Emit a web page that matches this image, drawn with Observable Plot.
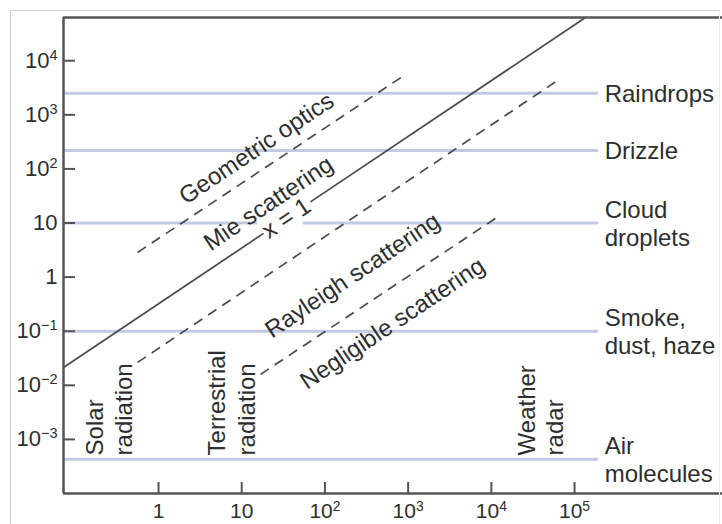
<!DOCTYPE html>
<html>
<head>
<meta charset="utf-8">
<script src="https://cdn.jsdelivr.net/npm/d3@7"></script>
<script src="https://cdn.jsdelivr.net/npm/@observablehq/plot@0.6"></script>
<style>
  body { margin: 0; background: #fff; }
  #wrap { position: relative; width: 722px; height: 524px; overflow: hidden; background: #fff; }
  #chart { position: absolute; left: 0; top: 0; }
  #border { position: absolute; left: 10px; top: 10px; width: 708px; height: 520px;
            border-left: 1px solid #cfcfcf; border-top: 1px solid #cfcfcf; border-right: 1px solid #ececec;
            pointer-events: none; }
</style>
</head>
<body>
<div id="wrap"><div id="chart"></div><div id="border"></div></div>
<script>
// ---- axes (wavelength λ in µm on x, particle radius r in µm on y) ----
const xDomain = [0.0721, 6.0e6];
const yDomain = [1.0e-4, 6.3e4];
const xTicks = [1, 10, 100, 1000, 1e4, 1e5];
const xTickLabels = ["1", "10", "10^2", "10^3", "10^4", "10^5"];
const yTicks = [1e-3, 1e-2, 1e-1, 1, 10, 100, 1000, 1e4];
const yTickLabels = ["10^−3", "10^−2", "10^−1", "1", "10", "10^2", "10^3", "10^4"];

// ---- particle types (horizontal bands) ----
const particles = ["Raindrops", "Drizzle", "Cloud\ndroplets", "Smoke,\ndust, haze", "Air\nmolecules"];
const particleRadius = [2500, 220, 10, 0.1, 4.3e-4];
const bandStart = 0.0721;
const bandEnd = 1.94e5;
const particleLabelX = 2.3e5;
const cloudGap = [15.5, 55.3];

// ---- regime boundary lines (endpoints) ----
// the solid x = 1 line is broken where its label sits
const boundaryX1 = [0.56, 0.0721, 67.1, 0.56, 16.8];
const boundaryY1 = [2.86, 0.0214, 24.6, 0.0265, 0.0159];
const boundaryX2 = [931, 18.3, 1.355e5, 6.79e4, 1.122e4];
const boundaryY2 = [5585, 6.43, 6.3e4, 4710, 12.2];
const boundaryDashed = [true, false, false, true, true];

// ---- regime labels ----
const regimeLabels = ["Geometric optics", "Mie scattering", "Rayleigh scattering", "Negligible scattering", "x = 1"];
const regimeLabelX = [15.1, 21, 215, 647, 34.5];
const regimeLabelY = [239, 23, 1.07, 0.139, 12.2];

// ---- radiation band labels (vertical) ----
const radiationLabels = ["Solar", "radiation", "Terrestrial", "radiation", "Weather", "radar"];
const radiationLabelX = [0.175, 0.39, 5.12, 11.7, 27200, 59100];
const radiationLabelY = 5.06e-4;

// ---- build tables ----
const bandSegments = [];
particles.forEach((name, i) => {
  const r = particleRadius[i];
  if (name.startsWith("Cloud")) {
    bandSegments.push({x1: bandStart, x2: cloudGap[0], r});
    bandSegments.push({x1: cloudGap[1], x2: bandEnd, r});
  } else {
    bandSegments.push({x1: bandStart, x2: bandEnd, r});
  }
});
const particleTable = particles.map((name, i) => ({name, r: particleRadius[i], x: particleLabelX}));
const boundaries = boundaryX1.map((x1, i) => ({x1, y1: boundaryY1[i], x2: boundaryX2[i], y2: boundaryY2[i], dashed: boundaryDashed[i]}));
const regimeTable = regimeLabels.map((t, i) => ({t, x: regimeLabelX[i], y: regimeLabelY[i]}));
const radiationTable = radiationLabels.map((t, i) => ({t, x: radiationLabelX[i], y: radiationLabelY}));

const ink = "#2e2e2e";
const lineInk = "#4a4a4a";
const frameInk = "#555";
const bandInk = "#c2cae4";
const angle = -33.8;

const W = 722, H = 524, mL = 63, mT = 17, mB = 31, mR = 0;
const innerW = W - mL - mR, innerH = H - mT - mB;

const chart = Plot.plot({
  width: W,
  height: H,
  marginLeft: mL,
  marginTop: mT,
  marginBottom: mB,
  marginRight: mR,
  style: {fontFamily: "'Liberation Sans', Arial, sans-serif", background: "#fff", overflow: "visible"},
  x: {type: "log", domain: xDomain},
  y: {type: "log", domain: yDomain},
  marks: [
    Plot.ruleY(bandSegments, {y: "r", x1: "x1", x2: "x2", stroke: bandInk, strokeWidth: 3}),
    Plot.link(boundaries.filter(d => d.dashed), {x1: "x1", y1: "y1", x2: "x2", y2: "y2",
      stroke: lineInk, strokeWidth: 1.7, strokeDasharray: "10,7"}),
    Plot.link(boundaries.filter(d => !d.dashed), {x1: "x1", y1: "y1", x2: "x2", y2: "y2",
      stroke: lineInk, strokeWidth: 1.7}),
    Plot.text(regimeTable, {x: "x", y: "y", text: "t", rotate: angle, fontSize: 24, fill: ink}),
    Plot.text(radiationTable, {x: "x", y: "y", text: "t", rotate: -90, textAnchor: "start", fontSize: 24, fill: ink}),
    Plot.text(particleTable, {x: "x", y: "r", text: "name", textAnchor: "start", lineHeight: 1.15, fontSize: 24, fill: ink}),
    // inward ticks
    Plot.tickY(yTicks, {y: d => d, insetRight: innerW - 12, stroke: frameInk, strokeWidth: 2}),
    Plot.tickX(xTicks, {x: d => d, insetTop: innerH - 11, stroke: frameInk, strokeWidth: 2}),
    // frame (left, top, bottom)
    Plot.ruleY([yDomain[0], yDomain[1]], {stroke: frameInk, strokeWidth: 2.5}),
    Plot.ruleX([xDomain[0]], {stroke: frameInk, strokeWidth: 2.5}),
    Plot.axisX(xTicks, {anchor: "bottom", tickSize: 0, tickPadding: 10, fontSize: 21, fill: ink,
      tickFormat: d => xTickLabels[xTicks.indexOf(d)], label: null}),
    Plot.axisY(yTicks, {anchor: "left", tickSize: 0, tickPadding: 6, fontSize: 22, fill: ink,
      tickFormat: d => yTickLabels[yTicks.indexOf(d)], label: null})
  ]
});

// turn "10^n" tick labels into real superscripts
d3.select(chart).selectAll("g[aria-label$='tick label'] text").each(function() {
  const s = this.textContent;
  const i = s.indexOf("^");
  if (i < 0) return;
  const base = s.slice(0, i), exp = s.slice(i + 1);
  this.textContent = "";
  const sel = d3.select(this);
  sel.append("tspan").text(base);
  sel.append("tspan").attr("font-size", "0.66em").attr("dy", "-0.55em").text(exp);
});

document.getElementById("chart").appendChild(chart);
</script>
</body>
</html>
